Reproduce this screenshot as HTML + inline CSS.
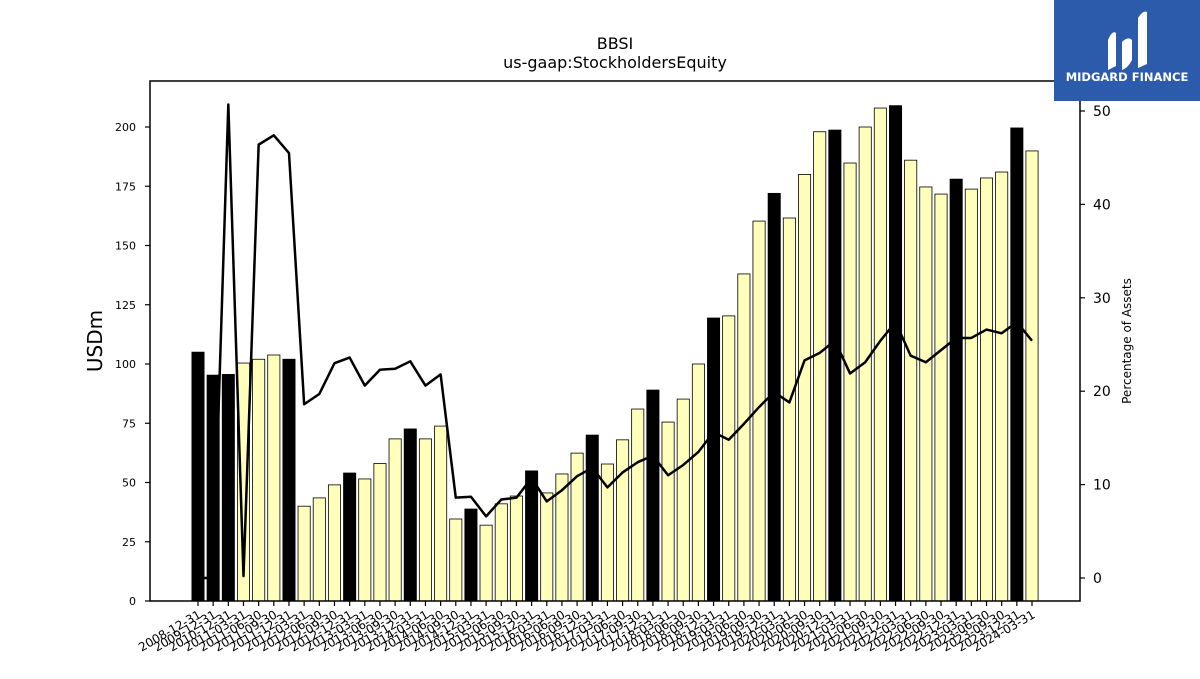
<!DOCTYPE html>
<html><head><meta charset="utf-8"><style>
body{margin:0;background:#fff;font-family:"DejaVu Sans","Liberation Sans",sans-serif;}
svg text{font-family:"DejaVu Sans","Liberation Sans",sans-serif;}
</style></head><body>
<svg id="chart" width="1200" height="675" xmlns="http://www.w3.org/2000/svg">
<rect width="1200" height="675" fill="#fff"/>
<text x="615" y="49" font-size="16" text-anchor="middle">BBSI</text>
<text x="615" y="68" font-size="16" text-anchor="middle">us-gaap:StockholdersEquity</text>
<g id="bars"></g>
<g id="line"></g>
<g id="axes"></g>
<rect x="150" y="81" width="930" height="520" fill="none" stroke="#000" stroke-width="1.5"/>
<text transform="translate(102,341) rotate(-90)" font-size="20" text-anchor="middle">USDm</text>
<text transform="translate(1131,341) rotate(-90)" font-size="12" text-anchor="middle">Percentage of Assets</text>
<g>
<rect x="1054" y="0" width="146" height="101" fill="#2d5bab"/>
<path d="M1108 70 L1108 40 Q1112 30 1116 33 L1116 66 Z M1122 70 L1122 42 Q1128 36 1132 40 L1132 60 Q1128 68 1122 70 Z M1138 68 L1138 18 Q1143 10 1147 12 L1147 64 Z" fill="#fff"/>
<text x="1127" y="81" font-size="11.5" font-weight="bold" fill="#fff" text-anchor="middle">MIDGARD FINANCE</text>
</g>
</svg>
<script>
const dates=["2008-12-31","2009-12-31","2010-12-31"];
(function(){for(let y=2011;y<=2024;y++){for(const q of["03-31","06-30","09-30","12-31"]){if(y===2024&&q!=="03-31")break;dates.push(y+"-"+q);}}})();
const equity=[105,95.3,95.6,100.4,102,103.8,102,40,43.5,49,54,51.5,58,68.4,72.6,68.4,73.8,34.6,38.8,32,41,44.3,54.9,45.6,53.6,62.4,70,57.8,68,81,89,75.5,85.2,100,119.4,120.3,138,160.3,172,161.6,180,198,198.7,184.8,200,208,209,186,174.7,171.7,178,173.8,178.5,181,199.6,189.9];
const pct=[0,0,50.7,0.2,46.4,47.4,45.5,18.6,19.7,23,23.6,20.6,22.3,22.4,23.2,20.6,21.8,8.6,8.7,6.6,8.4,8.6,10.7,8.2,9.4,10.9,11.8,9.7,11.3,12.4,13.1,11,12.1,13.5,15.6,14.8,16.5,18.3,19.9,18.8,23.3,24.1,25.4,21.9,23.1,25.4,27.4,23.8,23.1,24.4,25.7,25.7,26.6,26.2,27.4,25.4];
const yTicks=[0,25,50,75,100,125,150,175,200];
const y2Ticks=[0,10,20,30,40,50];
const NS="http://www.w3.org/2000/svg";
const x0=198,dx=(1032-198)/55;
const X=i=>x0+i*dx;
const Y=v=>601-v*2.37;
const Y2=v=>578-v*9.34;
function mk(t,a,p){const e=document.createElementNS(NS,t);for(const k in a)e.setAttribute(k,a[k]);p.appendChild(e);return e;}
const bars=document.getElementById('bars'),axes=document.getElementById('axes'),line=document.getElementById('line');
equity.forEach((v,i)=>{
 const annual=dates[i].endsWith("12-31");
 const r=mk('rect',{x:X(i)-6.1,y:Y(v),width:12.2,height:601-Y(v),fill:annual?'#000':'#ffffbb',stroke:'#000','stroke-width':0.8},bars);
 
 
 const t=mk('line',{x1:X(i),x2:X(i),y1:601,y2:606,stroke:'#000','stroke-width':1.2},axes);
 
 
 const l=mk('text',{transform:`translate(${X(i)+4},${617}) rotate(-30)`,'font-size':12,'text-anchor':'end'},axes);
 l.textContent=dates[i];
 
 
});
const p=mk('polyline',{points:pct.map((v,i)=>X(i)+','+Y2(v)).join(' '),fill:'none',stroke:'#000','stroke-width':2.5,'stroke-linejoin':'round'},line);


yTicks.forEach(v=>{
 mk('line',{x1:145,x2:150,y1:Y(v),y2:Y(v),stroke:'#000','stroke-width':1.2},axes);
 const t=mk('text',{x:136,y:Y(v)+4,'font-size':11,'text-anchor':'end'},axes);
 t.textContent=v;
 
 
});
y2Ticks.forEach(v=>{
 mk('line',{x1:1080,x2:1085,y1:Y2(v),y2:Y2(v),stroke:'#000','stroke-width':1.2},axes);
 const t=mk('text',{x:1093,y:Y2(v)+5,'font-size':14},axes);
 t.textContent=v;
 
 
});
</script>
</body></html>
